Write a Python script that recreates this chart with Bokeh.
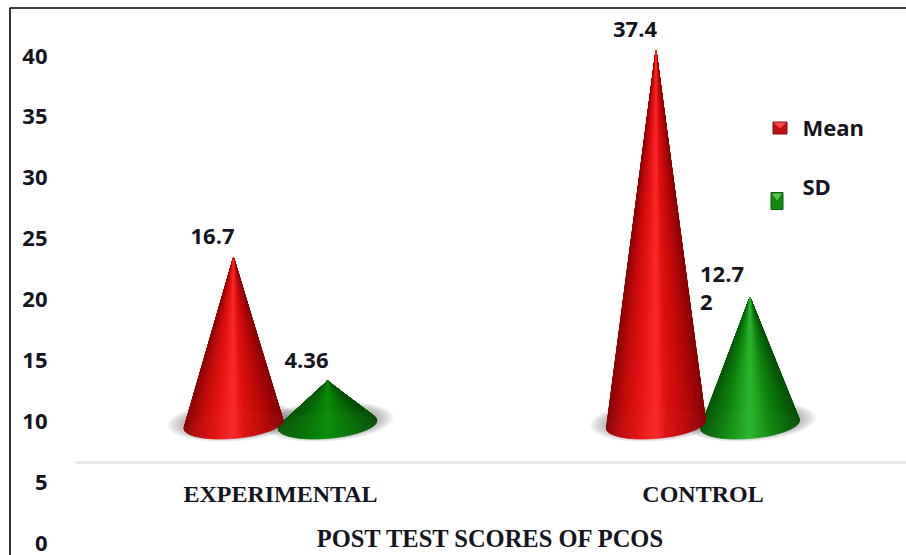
import numpy as np
from bokeh.core.properties import value
from bokeh.embed import file_html
from bokeh.models import FixedTicker, LinearAxis, Range1d
from bokeh.plotting import figure
from bokeh.resources import INLINE

# Chart values
categories = ["EXPERIMENTAL", "CONTROL"]
mean_values = [16.7, 37.4]
sd_values = [4.36, 12.72]
mean_labels = ["16.7", "37.4"]
sd_labels = ["4.36", "12.7\n2"]
axis_ticks = [0, 5, 10, 15, 20, 25, 30, 35, 40]
axis_title = "POST TEST SCORES OF PCOS"

W, H = 906, 555
X0_PX, X_SCALE = 280.0, 422.5      # pixels of category 0, pixels per category
Y0_PX, Y_SCALE = 424.0, 10.0       # pixels of value 0, pixels per value unit
TICK0_PX, TICK_SCALE = 542.5, 12.175


def dx(px):
    return (px - X0_PX) / X_SCALE


def dy(px):
    return (Y0_PX - px) / Y_SCALE


p = figure(width=W, height=H, output_backend="svg", toolbar_location=None,
           x_range=Range1d(dx(0), dx(W)), y_range=Range1d(dy(H), dy(0)),
           min_border=0, outline_line_color=None, x_axis_location=None,
           y_axis_location=None)
p.grid.visible = False
p.background_fill_color = "white"
p.extra_y_ranges["ticks"] = Range1d((TICK0_PX - H) / TICK_SCALE, TICK0_PX / TICK_SCALE)

LABEL_FONT = "Open Sans"
SERIF_FONT = "Liberation Serif"
INK = "#14141e"

# Thin frame along the top and left edges
p.line([dx(9.5), dx(9.5), dx(W)], [dy(H), dy(7.5), dy(7.5)], line_color="black", line_width=1.6)

# Value axis
y_axis = LinearAxis(y_range_name="ticks", ticker=FixedTicker(ticks=axis_ticks),
                    fixed_location=dx(53), axis_line_color=None,
                    major_tick_line_color=None, minor_tick_line_color=None,
                    major_label_standoff=0, major_label_text_font=LABEL_FONT,
                    major_label_text_font_style="bold", major_label_text_font_size="22px",
                    major_label_text_color=INK)
p.add_layout(y_axis, "left")

# Category axis with the title as its label
x_axis = LinearAxis(ticker=FixedTicker(ticks=[0, 1]),
                    major_label_overrides={i: c for i, c in enumerate(categories)},
                    fixed_location=dy(462), bounds=(dx(75), dx(W)),
                    axis_line_color="#e2e4e6", axis_line_width=2.5,
                    major_tick_line_color=None, minor_tick_line_color=None,
                    major_label_standoff=12, major_label_text_font=SERIF_FONT,
                    major_label_text_font_style="bold", major_label_text_font_size="24px",
                    major_label_text_color=INK, axis_label=axis_title,
                    axis_label_standoff=15, axis_label_text_font=SERIF_FONT,
                    axis_label_text_font_style="bold", axis_label_text_font_size="24.5px",
                    axis_label_text_color=INK)
p.add_layout(x_axis, "below")

BASE_A = 49.5 / X_SCALE   # half width of a cone base
BASE_B = 1.4              # half depth of a cone base
BASE_K = 0.4              # tilt of the base
OFFSET = 47.0 / X_SCALE   # distance of a cone from its category centre


def hex_rgb(c):
    return np.array([int(c[i:i + 2], 16) for i in (1, 3, 5)], dtype=float)


def shade(u, stops):
    us = [s[0] for s in stops]
    rgb = [np.interp(u, us, [hex_rgb(s[1])[k] for s in stops]) for k in range(3)]
    return "#%02x%02x%02x" % tuple(int(round(v)) for v in rgb)


RED_STOPS = [(-1, "#8c0505"), (-0.7, "#c40c0c"), (-0.35, "#e41414"), (0, "#fb2a2a"),
             (0.2, "#e01212"), (0.6, "#bc0a0a"), (1, "#8a0404")]
GREEN_STOPS = [(-1, "#075807"), (-0.55, "#0e840e"), (0, "#2db52d"),
               (0.5, "#0e800e"), (1, "#065206")]
GREEN_DARK_STOPS = [(-1, "#065a06"), (-0.5, "#067406"), (0, "#0a8c0a"),
                    (0.5, "#067406"), (1, "#055005")]


def draw_shadow(cx):
    # Soft grey pool below a cone, built from stacked translucent ellipses
    for grow in np.linspace(1.0, 0.72, 10):
        p.ellipse(x=cx, y=dy(421), width=2 * 66 / X_SCALE * grow, height=2 * 20 / Y_SCALE * grow,
                  angle=np.arctan(0.08) * 0.8, fill_color="#707070", fill_alpha=0.07, line_color=None)


def draw_cone(cx, height, stops):
    # Apex-to-base slices, back of the base first, so the shading follows the surface
    n = 120
    theta = np.linspace(0, 2 * np.pi, n + 1)
    mids = (theta[:-1] + theta[1:]) / 2
    order = np.argsort(-np.sin(mids))
    xs, ys, colors = [], [], []
    for i in order:
        t0, t1 = theta[i], theta[i + 1]
        xs.append([cx, cx + BASE_A * np.cos(t0), cx + BASE_A * np.cos(t1)])
        ys.append([height, BASE_B * np.sin(t0) + BASE_K * np.cos(t0),
                   BASE_B * np.sin(t1) + BASE_K * np.cos(t1)])
        colors.append(shade(np.cos(mids[i]), stops))
    p.patches(xs, ys, fill_color=colors, line_color=colors, line_width=0.6)


for i in range(len(categories)):
    draw_shadow(i - OFFSET)
    draw_shadow(i + OFFSET)
for i in range(len(categories)):
    draw_cone(i + OFFSET, sd_values[i], GREEN_DARK_STOPS if sd_values[i] < 6 else GREEN_STOPS)
    draw_cone(i - OFFSET, mean_values[i], RED_STOPS)

# Value labels, placed relative to each cone tip
text_style = dict(text_font=value(LABEL_FONT), text_font_style="bold", text_font_size="22px",
                  text_color=INK, text_line_height=0.92)
p.text(x=[i - OFFSET for i in range(2)], y=mean_values, text=mean_labels, x_offset=-21, y_offset=-21,
       text_align="center", text_baseline="middle", **text_style)
p.text(x=[OFFSET], y=[sd_values[0]], text=[sd_labels[0]], x_offset=-21, y_offset=-20,
       text_align="center", text_baseline="middle", **text_style)
p.text(x=[1 + OFFSET], y=[sd_values[1]], text=[sd_labels[1]], x_offset=-50, y_offset=-39,
       text_align="left", text_baseline="top", **text_style)

# Legend entries
legend_names = ["Mean", "SD"]
p.rect(x=[dx(779.5)], y=[dy(127.5)], width=14 / X_SCALE, height=12 / Y_SCALE,
       fill_color="#c00f14", line_color="#8a0a0a")
p.patch([dx(773), dx(786), dx(779.5)], [dy(122), dy(122), dy(128)], fill_color="#ef4a4a", line_color=None)
p.rect(x=[dx(776.5)], y=[dy(200.5)], width=12 / X_SCALE, height=17 / Y_SCALE,
       fill_color="#128a12", line_color="#0a5a0a")
p.patch([dx(771.5), dx(781.5), dx(776.5)], [dy(193), dy(193), dy(200)], fill_color="#55c455", line_color=None)
p.text(x=[dx(802), dx(802)], y=[dy(126.5), dy(185.5)], text=legend_names, text_align="left",
       text_baseline="middle", **text_style)

open("out.html", "w").write(file_html(p, INLINE))
